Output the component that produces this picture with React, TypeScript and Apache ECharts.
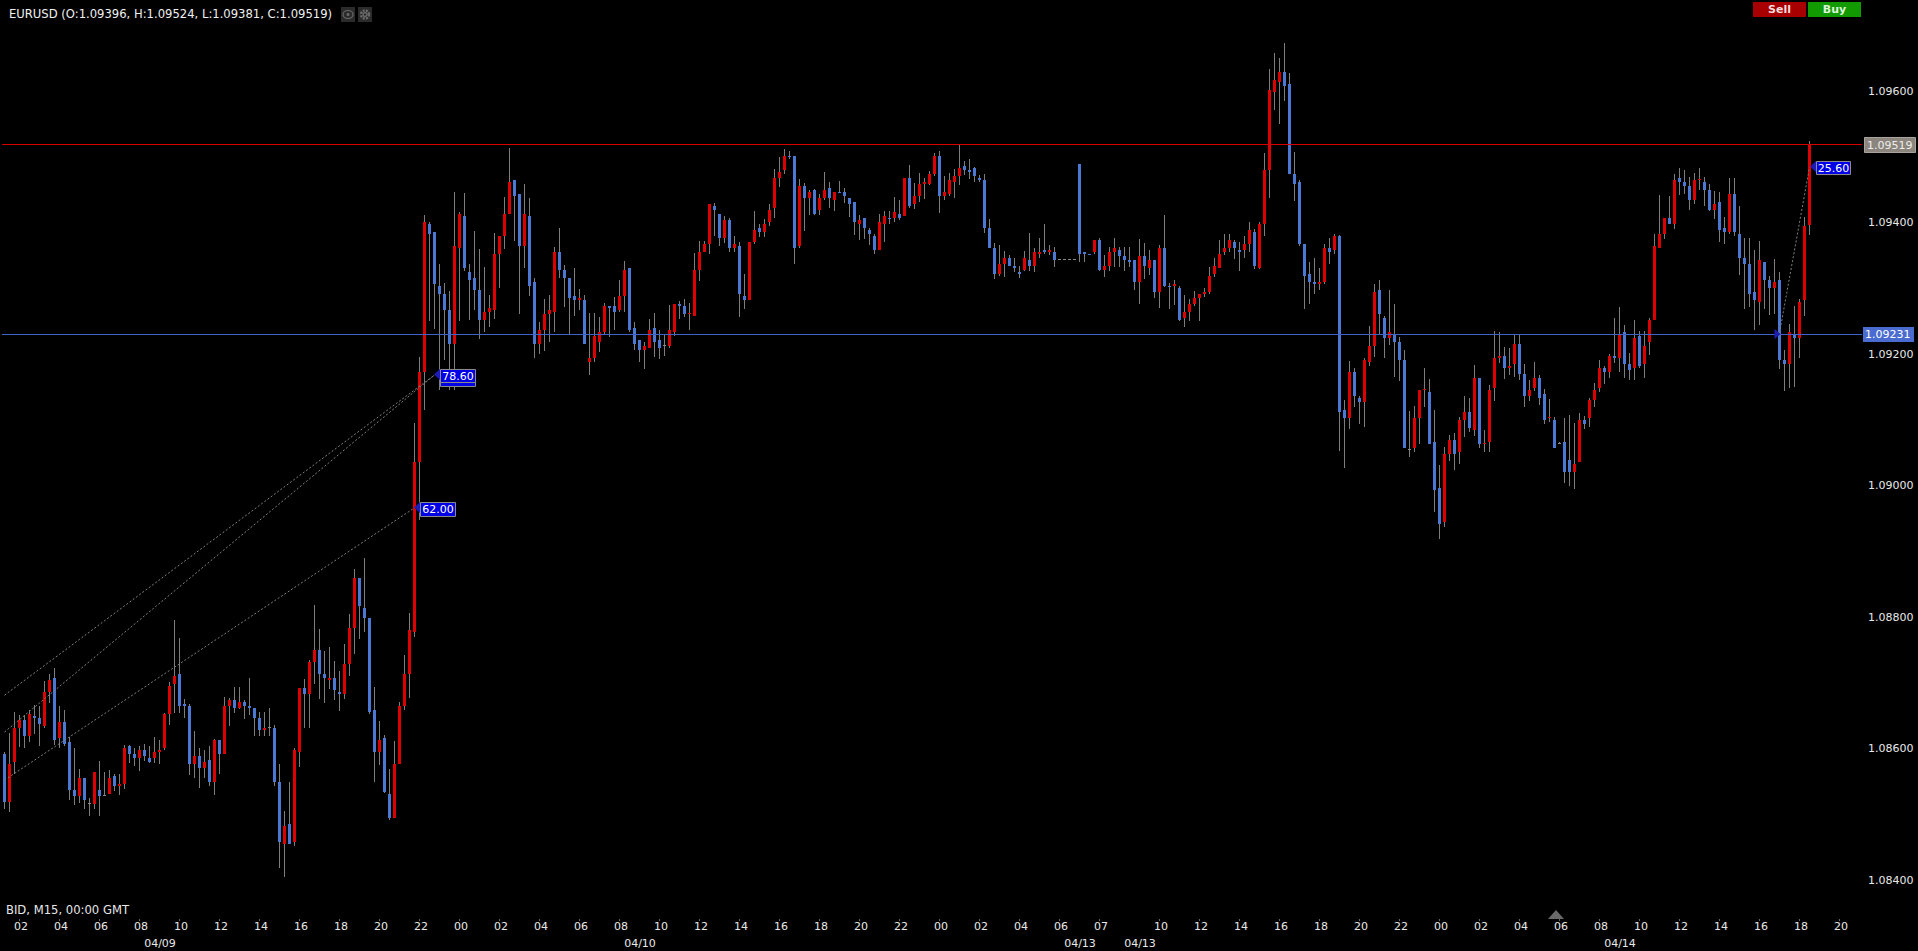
import React, { useEffect, useRef } from "react";
import * as echarts from "echarts";

// Prices in units of 0.00001 above 1.00000 (9396 means 1.09396). One candle every 15 minutes.
const opens = [
  8592,8519,8580,8631,8643,8619,8650,8647,8634,8686,
  8707,8616,8640,8610,8537,8528,8555,8517,8516,8537,
  8530,8531,8558,8543,8546,8604,8592,8586,8598,8586,
  8586,8595,8601,8653,8698,8713,8668,8665,8577,8589,
  8570,8583,8549,8613,8592,8665,8674,8662,8671,8665,
  8662,8647,8628,8632,8631,8549,8455,8485,8458,8595,
  8692,8683,8732,8750,8713,8704,8707,8686,8683,8729,
  8783,8859,8814,8798,8659,8595,8616,8531,8494,8577,
  8665,8713,8777,9036,9173,9398,9386,9303,9291,9267,
  9215,9361,9410,9325,9316,9297,9252,9264,9267,9352,
  9379,9413,9465,9443,9364,9410,9310,9215,9237,9261,
  9264,9355,9328,9316,9288,9282,9282,9188,9194,9218,
  9233,9273,9273,9267,9288,9331,9240,9221,9206,9209,
  9240,9221,9214,9212,9233,9276,9273,9261,9258,9328,
  9355,9367,9425,9413,9376,9404,9361,9364,9288,9282,
  9370,9392,9386,9401,9422,9468,9480,9501,9501,9364,
  9456,9437,9449,9419,9437,9452,9434,9446,9446,9437,
  9431,9398,9407,9389,9379,9358,9398,9407,9407,9413,
  9410,9468,9428,9440,9459,9459,9474,9501,9440,9443,
  9462,9471,9486,9480,9483,9468,9465,9392,9361,9322,
  9337,9346,9334,9325,9328,9343,9334,9352,9358,9355,
  9355,9344,9344,9344,9344,9489,9355,9352,9355,9373,
  9328,9334,9355,9358,9349,9343,9343,9310,9349,9331,
  9343,9294,9361,9303,9303,9300,9255,9264,9276,9285,
  9291,9294,9322,9331,9355,9361,9370,9358,9358,9367,
  9386,9331,9398,9480,9598,9614,9629,9611,9474,9462,
  9367,9322,9310,9306,9310,9361,9358,9379,9115,9103,
  9173,9133,9127,9188,9212,9297,9255,9224,9230,9218,
  9191,9056,9057,9103,9145,9142,9066,8996,8944,9048,
  9069,9051,9100,9112,9084,9164,9063,9066,9148,9194,
  9197,9179,9185,9215,9170,9136,9148,9164,9139,9103,
  9100,9065,9066,9039,9020,9036,9100,9103,9130,9148,
  9179,9173,9197,9194,9233,9185,9179,9227,9185,9218,
  9252,9361,9383,9407,9398,9468,9462,9456,9434,9465,
  9462,9449,9419,9431,9392,9386,9443,9383,9346,9337,
  9294,9279,9340,9313,9300,9313,9191,9185,9230,9224,9282,9396,
];
const highs = [
  8594,8623,8655,8651,8651,8659,8666,8665,8703,8713,
  8722,8665,8659,8618,8601,8569,8555,8525,8564,8581,
  8564,8567,8561,8561,8605,8605,8601,8604,8607,8604,
  8618,8613,8654,8701,8796,8768,8675,8668,8627,8601,
  8598,8604,8615,8613,8678,8677,8694,8694,8674,8707,
  8662,8656,8656,8662,8636,8577,8505,8549,8601,8692,
  8706,8735,8818,8782,8748,8755,8733,8718,8759,8805,
  8873,8859,8890,8798,8693,8642,8621,8569,8612,8671,
  8742,8806,9095,9195,9411,9401,9386,9337,9308,9296,
  9446,9416,9445,9337,9387,9360,9332,9290,9384,9379,
  9439,9513,9465,9443,9459,9437,9316,9249,9284,9290,
  9363,9392,9335,9316,9331,9299,9290,9262,9262,9256,
  9278,9273,9287,9313,9341,9331,9249,9221,9218,9253,
  9262,9237,9229,9275,9276,9281,9284,9278,9354,9372,
  9372,9428,9430,9413,9410,9407,9379,9370,9322,9370,
  9418,9398,9405,9428,9481,9500,9512,9509,9501,9466,
  9460,9449,9451,9443,9477,9462,9446,9463,9452,9437,
  9431,9411,9407,9392,9383,9413,9418,9418,9439,9434,
  9468,9487,9460,9475,9468,9478,9506,9509,9471,9475,
  9481,9518,9493,9497,9484,9472,9474,9405,9369,9366,
  9357,9351,9346,9334,9357,9384,9361,9376,9398,9366,
  9363,9344,9344,9344,9344,9489,9355,9352,9373,9376,
  9351,9363,9376,9363,9363,9363,9343,9375,9369,9358,
  9343,9366,9411,9308,9312,9303,9290,9284,9296,9291,
  9300,9332,9346,9373,9383,9383,9373,9370,9379,9401,
  9390,9401,9506,9633,9658,9650,9673,9627,9507,9465,
  9367,9340,9346,9331,9367,9376,9383,9381,9130,9189,
  9179,9136,9194,9243,9306,9312,9258,9297,9276,9226,
  9206,9113,9121,9145,9179,9162,9115,9031,9059,9077,
  9080,9104,9136,9133,9183,9164,9084,9153,9235,9233,
  9211,9209,9230,9229,9185,9160,9188,9168,9147,9132,
  9104,9066,9103,9107,9095,9110,9106,9133,9156,9191,
  9182,9200,9255,9272,9244,9201,9252,9235,9235,9255,
  9383,9442,9407,9440,9474,9483,9480,9469,9475,9483,
  9469,9459,9448,9446,9408,9468,9468,9425,9376,9376,
  9358,9372,9340,9319,9344,9325,9206,9246,9273,9284,9408,9524,
];
const lows = [
  8508,8504,8561,8602,8601,8610,8622,8604,8631,8669,
  8605,8601,8604,8522,8514,8517,8508,8497,8508,8497,
  8529,8531,8535,8529,8539,8578,8574,8566,8581,8578,
  8578,8577,8598,8636,8654,8654,8647,8560,8555,8540,
  8555,8543,8529,8561,8592,8634,8654,8660,8645,8651,
  8619,8619,8619,8619,8543,8418,8405,8455,8452,8572,
  8631,8631,8698,8675,8669,8691,8674,8657,8675,8710,
  8744,8766,8777,8652,8549,8575,8533,8491,8494,8577,
  8659,8677,8770,8948,9115,9250,9238,9145,9191,9145,
  9145,9250,9326,9252,9267,9223,9233,9241,9253,9300,
  9360,9413,9372,9261,9331,9288,9194,9200,9205,9218,
  9233,9316,9272,9230,9258,9267,9215,9168,9188,9203,
  9230,9226,9237,9264,9264,9233,9206,9188,9177,9209,
  9195,9192,9197,9209,9227,9253,9256,9237,9258,9311,
  9355,9352,9379,9364,9369,9355,9355,9256,9268,9282,
  9367,9378,9378,9395,9407,9454,9474,9497,9337,9361,
  9387,9411,9411,9411,9434,9422,9418,9445,9430,9408,
  9381,9373,9375,9366,9352,9358,9370,9398,9401,9404,
  9410,9422,9420,9431,9436,9457,9471,9414,9434,9440,
  9437,9457,9472,9466,9462,9462,9384,9361,9314,9319,
  9317,9334,9325,9316,9326,9326,9325,9346,9352,9351,
  9332,9344,9344,9344,9344,9340,9340,9351,9352,9326,
  9317,9326,9332,9332,9326,9332,9297,9276,9314,9320,
  9285,9270,9302,9268,9275,9250,9241,9250,9273,9250,
  9287,9291,9317,9331,9351,9355,9344,9326,9346,9355,
  9329,9329,9379,9437,9571,9550,9585,9474,9433,9364,
  9268,9276,9291,9297,9306,9337,9352,9052,9027,9086,
  9119,9093,9089,9182,9195,9230,9194,9214,9165,9159,
  9057,9043,9051,9063,9119,9063,8960,8919,8937,9037,
  9024,9033,9074,9081,9075,9057,9051,9051,9128,9186,
  9162,9168,9165,9160,9119,9128,9144,9122,9093,9097,
  9057,9063,9004,8999,8995,9036,9086,9089,9119,9142,
  9154,9164,9186,9173,9164,9160,9160,9179,9164,9198,
  9252,9361,9375,9398,9390,9442,9443,9419,9428,9449,
  9425,9418,9405,9370,9367,9383,9379,9320,9268,9272,
  9237,9244,9268,9259,9261,9177,9144,9148,9150,9194,9258,9381,
];
const closes = [
  8519,8577,8631,8643,8619,8653,8647,8637,8686,8704,
  8613,8640,8607,8537,8528,8555,8522,8517,8564,8528,
  8530,8555,8543,8546,8601,8592,8586,8598,8589,8580,
  8595,8598,8653,8695,8710,8665,8665,8577,8589,8570,
  8580,8549,8613,8592,8665,8674,8662,8671,8665,8662,
  8647,8628,8631,8632,8549,8458,8482,8455,8598,8692,
  8683,8732,8750,8713,8707,8707,8689,8683,8729,8783,
  8859,8817,8798,8655,8595,8613,8534,8494,8577,8665,
  8713,8780,9036,9173,9401,9383,9306,9291,9267,9215,
  9364,9413,9331,9313,9297,9252,9264,9270,9352,9379,
  9413,9462,9440,9364,9413,9303,9215,9237,9261,9267,
  9355,9328,9316,9285,9282,9285,9215,9194,9227,9233,
  9273,9270,9264,9288,9328,9237,9215,9206,9212,9237,
  9218,9209,9214,9237,9276,9273,9261,9262,9328,9355,
  9367,9428,9419,9376,9404,9361,9367,9291,9282,9370,
  9389,9386,9398,9419,9468,9477,9501,9500,9361,9456,
  9437,9446,9413,9437,9449,9437,9446,9445,9440,9428,
  9401,9404,9392,9383,9358,9401,9410,9405,9416,9407,
  9468,9425,9440,9459,9462,9474,9501,9440,9446,9465,
  9471,9483,9480,9477,9471,9465,9392,9361,9322,9337,
  9346,9334,9331,9322,9346,9334,9355,9355,9355,9358,
  9343,9344,9344,9344,9344,9352,9352,9351,9373,9328,
  9334,9355,9361,9349,9343,9340,9310,9349,9334,9343,
  9294,9361,9303,9302,9306,9252,9264,9276,9285,9291,
  9294,9319,9334,9352,9361,9373,9361,9355,9367,9389,
  9334,9398,9480,9602,9617,9629,9608,9474,9459,9367,
  9319,9310,9306,9310,9361,9355,9379,9112,9103,9173,
  9136,9127,9191,9212,9294,9261,9224,9233,9218,9191,
  9057,9056,9103,9145,9147,9063,8993,8941,9048,9069,
  9048,9100,9112,9087,9164,9063,9065,9145,9194,9197,
  9179,9182,9215,9170,9136,9145,9164,9133,9100,9104,
  9057,9065,9020,9020,9033,9100,9094,9130,9145,9179,
  9173,9197,9194,9229,9185,9176,9224,9182,9212,9252,
  9364,9383,9407,9398,9465,9462,9456,9434,9465,9466,
  9449,9419,9428,9389,9386,9443,9386,9346,9337,9291,
  9282,9343,9313,9300,9310,9191,9185,9233,9224,9279,9395,9519,
];

const emptySlots = 10;
const tickSlots = [
  3,11,19,27,35,43,51,59,67,75,83,91,99,107,115,123,131,139,147,155,163,171,179,187,195,203,211,
  219,231,239,247,255,263,271,279,287,295,303,311,319,327,335,343,351,359,367,
];
const tickLabels = [
  "02","04","06","08","10","12","14","16","18","20","22","00",
  "02","04","06","08","10","12","14","16","18","20","22","00",
  "02","04","06","07","10","12","14","16","18","20","22","00",
  "02","04","06","08","10","12","14","16","18","20",
];
const dateLabels = ["04/09", "04/10", "04/13", "04/13", "04/14"];
const dateLabelX = [160, 640, 1080, 1140, 1620];

const askLevel = 9519;
const bidLevel = 9231;
const fanLines = [
  [[0, 8681], [86, 9168]],
  [[0, 8625], [86, 9168]],
  [[0, 8552], [82, 8966]],
  [[355, 9232], [361, 9484]],
];
const fanTags = [
  { text: "78.60", x: 440, y: 369, w: 35, h: 13, underlay: true },
  { text: "62.00", x: 420, y: 502, w: 35, h: 14, underlay: false },
  { text: "25.60", x: 1816, y: 161, w: 34, h: 13, underlay: false },
];

const RED = "#dd0000";
const BLUE = "#4a78d2";
const WICK = "#7d7d7d";
const FONT = '11px "DejaVu Sans"';
const WIDE_FONT = '11.6px "DejaVu Sans"';

const slots = Array.from({ length: opens.length + emptySlots }, (_, i) => String(i));
const tickText = new Map(tickSlots.map((s, i) => [s, tickLabels[i]]));
const candleData = opens.map((o, i) => [i, o, highs[i], lows[i], closes[i]]);

function renderCandle(_params: any, api: any) {
  const k = api.value(0);
  const o = api.value(1);
  const h = api.value(2);
  const l = api.value(3);
  const c = api.value(4);
  const [x] = api.coord([k, o]);
  const yO = Math.round(api.coord([k, o])[1]);
  const yC = Math.round(api.coord([k, c])[1]);
  const yH = Math.round(api.coord([k, h])[1]);
  const yL = Math.round(api.coord([k, l])[1]);
  const fill = o === c ? "#8a8a8a" : c > o ? RED : BLUE;
  const top = Math.min(yO, yC);
  const height = Math.max(1, Math.abs(yO - yC));
  const children: any[] = [];
  if (yL > yH) {
    children.push({
      type: "line",
      shape: { x1: x, y1: yH, x2: x, y2: yL },
      style: { stroke: WICK, lineWidth: 1 },
    });
  }
  children.push({
    type: "rect",
    shape: { x: x - 1.5, y: top, width: 3, height },
    style: { fill },
  });
  return { type: "group", children };
}

function renderLevel(params: any, api: any) {
  const v = api.value(0);
  const y = Math.round(api.coord([0, v])[1]) + 0.5;
  const cs = params.coordSys;
  return {
    type: "line",
    shape: { x1: cs.x, y1: y, x2: cs.x + cs.width, y2: y },
    style: { stroke: api.value(1) === 1 ? "#d40000" : "#3f62c8", lineWidth: 1 },
  };
}

const txt = (text: string, x: number, y: number, fill: string, align = "left", font = FONT) => ({
  type: "text",
  z: 100,
  silent: true,
  x,
  y,
  style: { text, fill, font, align, verticalAlign: "middle" },
});
const box = (x: number, y: number, width: number, height: number, fill: string, stroke?: string) => ({
  type: "rect",
  z: 99,
  silent: true,
  shape: { x, y, width, height },
  style: stroke ? { fill, stroke, lineWidth: 1 } : { fill },
});
const tri = (points: number[][]) => ({
  type: "polygon",
  z: 99,
  silent: true,
  shape: { points },
  style: { fill: "#1c1cb4" },
});

function buildGraphics() {
  const els: any[] = [];
  els.push(txt("EURUSD (O:1.09396, H:1.09524, L:1.09381, C:1.09519)", 9, 14, "#f0f0f0", "left", WIDE_FONT));
  // eye and gear buttons
  els.push(box(341, 7, 14, 15, "#2b2b2b"));
  els.push(box(358, 7, 14, 15, "#2b2b2b"));
  els.push({ type: "ellipse", z: 100, silent: true, shape: { cx: 348, cy: 14.5, rx: 5, ry: 4 }, style: { fill: "none", stroke: "#6a6a6a", lineWidth: 1.2 } });
  els.push({ type: "circle", z: 100, silent: true, shape: { cx: 348, cy: 14.5, r: 1.5 }, style: { fill: "#6a6a6a" } });
  els.push({ type: "circle", z: 100, silent: true, shape: { cx: 365, cy: 14.5, r: 4 }, style: { fill: "none", stroke: "#6a6a6a", lineWidth: 2.6, lineDash: [2, 1.2] } });
  els.push({ type: "circle", z: 100, silent: true, shape: { cx: 365, cy: 14.5, r: 2.6 }, style: { fill: "#6a6a6a" } });
  els.push({ type: "circle", z: 100, silent: true, shape: { cx: 365, cy: 14.5, r: 1.2 }, style: { fill: "#2b2b2b" } });
  // sell and buy buttons
  els.push(box(1753, 2, 53, 15, "#a80000"));
  els.push(box(1808, 2, 53, 15, "#129b00"));
  els.push(txt("Sell", 1779.5, 9.5, "#f4dcdc", "center", 'bold 11px "DejaVu Sans"'));
  els.push(txt("Buy", 1834.5, 9.5, "#dcf4dc", "center", 'bold 11px "DejaVu Sans"'));
  // price tags
  els.push(box(1864.5, 137.5, 51, 15, "#8b857d", "#a8a49c"));
  els.push(txt("1.09519", 1867, 145, "#ececec"));
  els.push(box(1863, 327, 51, 15, "#4a6bcf"));
  els.push(txt("1.09231", 1865, 334.5, "#ffffff"));
  // fan tags
  fanTags.forEach((t) => {
    if (t.underlay) els.push(box(t.x + 0.5, t.y + 6.5, t.w, 11, "#0000e6", "#8a8a8a"));
    els.push(box(t.x + 0.5, t.y + 0.5, t.w, t.h, "#0000e6", "#8a8a8a"));
    els.push(txt(t.text, t.x + t.w / 2 + 0.5, t.y + t.h / 2 + 0.5, "#ffffff", "center"));
    els.push(tri([[t.x, t.y], [t.x, t.y + 11], [t.x - 6, t.y + 5.5]]));
  });
  els.push(tri([[1774.5, 329], [1774.5, 339], [1780.5, 334]]));
  // footer
  els.push(txt("BID, M15, 00:00 GMT", 6, 910, "#e8e8e8", "left", WIDE_FONT));
  dateLabels.forEach((d, i) => els.push(txt(d, dateLabelX[i], 943, "#e8e8e8", "center")));
  els.push({ type: "polygon", z: 99, silent: true, shape: { points: [[1548, 919], [1564, 919], [1556, 910]] }, style: { fill: "#6a6a6a" } });
  return els;
}

export default function App() {
  const ref = useRef<HTMLDivElement>(null);
  useEffect(() => {
    document.body.style.margin = "0";
    document.body.style.background = "#000";
    const chart = echarts.init(ref.current!, null, { renderer: "svg" });
    chart.setOption({
      animation: false,
      backgroundColor: "#000000",
      tooltip: { show: false },
      grid: { left: 2, top: 91, width: 1860, height: 789, containLabel: false },
      xAxis: {
        type: "category",
        data: slots,
        boundaryGap: true,
        position: "bottom",
        offset: 39,
        axisLine: { show: false },
        axisTick: {
          show: true,
          length: 2,
          alignWithLabel: true,
          interval: (i: number) => tickText.has(i),
          lineStyle: { color: "#666666" },
        },
        axisLabel: {
          show: true,
          margin: 2,
          color: "#e8e8e8",
          fontSize: 11,
          fontFamily: "DejaVu Sans",
          padding: [0, 0, 0, 3],
          hideOverlap: false,
          interval: (i: number) => tickText.has(i),
          formatter: (_v: string, i: number) => tickText.get(i) ?? "",
        },
        splitLine: { show: false },
      },
      yAxis: {
        type: "value",
        position: "right",
        min: 8400,
        max: 9600,
        interval: 200,
        scale: true,
        axisLine: { show: false },
        axisTick: { show: false },
        splitLine: { show: false },
        axisLabel: {
          margin: 6,
          color: "#e8e8e8",
          fontSize: 11,
          fontFamily: "DejaVu Sans",
          formatter: (v: number) => (1 + v / 100000).toFixed(5),
        },
      },
      graphic: buildGraphics(),
      series: [
        {
          type: "custom",
          name: "EURUSD",
          z: 2,
          clip: false,
          silent: true,
          renderItem: renderCandle,
          encode: { x: 0, y: [1, 2, 3, 4] },
          data: candleData,
        },
        {
          type: "custom",
          name: "levels",
          z: 3,
          clip: false,
          silent: true,
          renderItem: renderLevel,
          encode: { y: 0 },
          data: [
            [askLevel, 1],
            [bidLevel, 0],
          ],
        },
        ...fanLines.map((pts, i) => ({
          type: "line",
          name: "fan" + i,
          z: 4,
          silent: true,
          showSymbol: false,
          symbol: "none",
          lineStyle: { color: "#808080", width: 1, type: [2, 2] },
          data: pts,
        })),
      ],
    });
    return () => chart.dispose();
  }, []);
  return (
    <div
      ref={ref}
      style={{ position: "absolute", left: 0, top: 0, width: 1918, height: 951, background: "#000" }}
    />
  );
}
